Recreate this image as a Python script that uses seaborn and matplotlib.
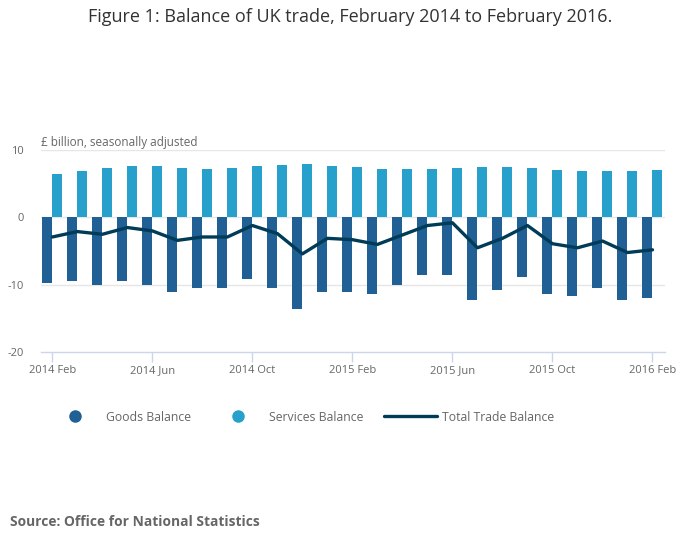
import numpy as np
import pandas as pd
import matplotlib
matplotlib.use("Agg")
import matplotlib.pyplot as plt
from matplotlib.lines import Line2D
import seaborn as sns

# monthly values, £ billion, seasonally adjusted
months = ['2014 Feb', '2014 Mar', '2014 Apr', '2014 May', '2014 Jun', '2014 Jul',
          '2014 Aug', '2014 Sep', '2014 Oct', '2014 Nov', '2014 Dec', '2015 Jan',
          '2015 Feb', '2015 Mar', '2015 Apr', '2015 May', '2015 Jun', '2015 Jul',
          '2015 Aug', '2015 Sep', '2015 Oct', '2015 Nov', '2015 Dec', '2016 Jan',
          '2016 Feb']
goods = [-9.7, -9.4, -10.0, -9.4, -10.0, -11.0, -10.4, -10.4, -9.1, -10.5, -13.5, -11.1,
         -11.1, -11.4, -10.0, -8.6, -8.5, -12.2, -10.8, -8.8, -11.3, -11.6, -10.5, -12.2,
         -12.0]
services = [6.5, 6.9, 7.3, 7.6, 7.6, 7.3, 7.2, 7.3, 7.6, 7.8, 7.9, 7.6,
            7.5, 7.2, 7.2, 7.2, 7.3, 7.5, 7.5, 7.3, 7.0, 6.9, 6.8, 6.8,
            7.0]
total = [-2.9, -2.1, -2.5, -1.5, -2.0, -3.4, -2.9, -2.9, -1.2, -2.4, -5.4, -3.1,
         -3.3, -4.0, -2.6, -1.2, -0.8, -4.5, -3.1, -1.2, -3.9, -4.5, -3.5, -5.2,
         -4.8]
tick_labels = ['2014 Feb', '2014 Jun', '2014 Oct', '2015 Feb', '2015 Jun', '2015 Oct', '2016 Feb']

goods_col = '#206095'
serv_col = '#27a0cc'
total_col = '#003c57'
grey = '#666666'

sns.set_theme(style='white')
plt.rcParams['font.family'] = ['Open Sans', 'DejaVu Sans']
plt.rcParams['axes.unicode_minus'] = False

df = pd.DataFrame({
    'month': months * 2,
    'value': goods + services,
    'series': ['Goods Balance'] * len(months) + ['Services Balance'] * len(months),
})

fig = plt.figure(figsize=(7, 5.49), dpi=100)
ax = fig.add_axes([0.058, 0.358, 0.892, 0.369])

sns.barplot(data=df, x='month', y='value', hue='series', order=months,
            hue_order=['Goods Balance', 'Services Balance'],
            palette=[goods_col, serv_col], saturation=1, width=0.8,
            linewidth=0, legend=False, ax=ax, zorder=2)
sns.lineplot(x=np.arange(len(months)), y=total, color=total_col, linewidth=2.4,
             ax=ax, zorder=3)

ax.set_xlim(-0.47, len(months) - 0.5)
ax.set_ylim(-20, 10)
ax.set_yticks([-20, -10, 0, 10])
ax.set_xticks([months.index(m) for m in tick_labels])
ax.set_xticklabels(tick_labels)
ax.set_xlabel('')
ax.set_ylabel('')

for y in [0, 10, -10]:
    ax.axhline(y, color='#e6e6e6', linewidth=1, zorder=1)

for s in ['top', 'right', 'left']:
    ax.spines[s].set_visible(False)
ax.spines['bottom'].set_color('#ccd6eb')
ax.spines['bottom'].set_linewidth(1)

ax.tick_params(axis='y', length=0, pad=12, labelsize=8, labelcolor=grey)
ax.tick_params(axis='x', length=7, width=1, color='#ccd6eb', pad=2,
               labelsize=8, labelcolor=grey, bottom=True)

ax.text(0, 1.005, '£ billion, seasonally adjusted', transform=ax.transAxes,
        ha='left', va='bottom', fontsize=8.5, color=grey)

fig.suptitle('Figure 1: Balance of UK trade, February 2014 to February 2016.',
             x=0.5, y=0.985, fontsize=13, color='#333333', va='top')

handles = [
    Line2D([], [], linestyle='none', marker='o', markersize=8, color=goods_col),
    Line2D([], [], linestyle='none', marker='o', markersize=8, color=serv_col),
    Line2D([], [], color=total_col, linewidth=2.4),
]
fig.legend(handles, ['Goods Balance', 'Services Balance', 'Total Trade Balance'],
           loc='center left', bbox_to_anchor=(0.0686, 0.240), ncol=3, frameon=False,
           fontsize=8.8, labelcolor=grey, handlelength=4.35, handletextpad=0.4,
           columnspacing=1.64, borderpad=0, borderaxespad=0)

fig.text(0.014, 0.05, 'Source: Office for National Statistics', fontsize=9.9,
         fontweight='bold', color=grey, ha='left', va='center')

fig.savefig('out.png', dpi=100)
